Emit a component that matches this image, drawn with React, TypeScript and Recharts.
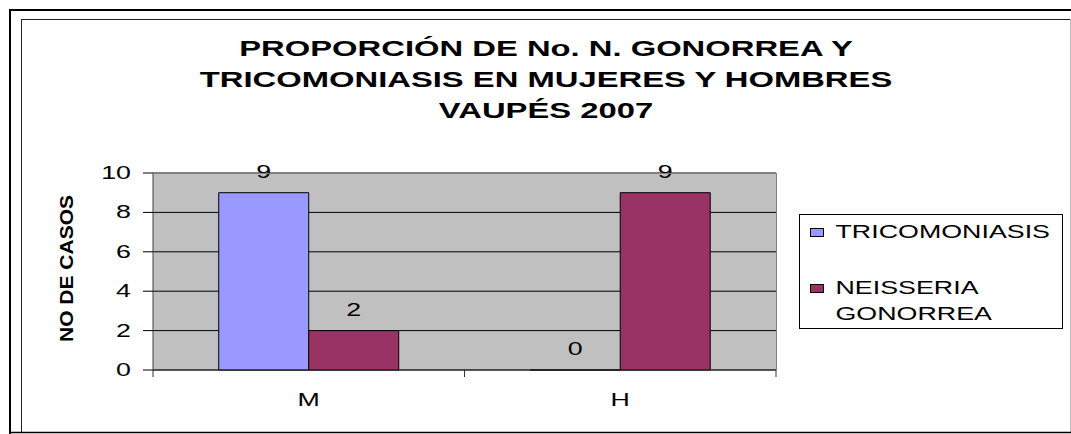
import React from 'react';
import { BarChart, Bar, XAxis, YAxis, CartesianGrid, LabelList } from 'recharts';

// values
const CATEGORIES = ['M', 'H'];
const TRICOMONIASIS = [9, 0];
const NEISSERIA_GONORREA = [2, 9];
const Y_TICKS = [0, 2, 4, 6, 8, 10];

const SERIES = [
  { key: 'tricomoniasis', name: 'TRICOMONIASIS', color: '#9999FF' },
  { key: 'gonorrea', name: 'NEISSERIA GONORREA', color: '#993366' },
];

const TITLE_LINES = [
  'PROPORCIÓN DE No. N. GONORREA Y',
  'TRICOMONIASIS EN MUJERES Y HOMBRES',
  'VAUPÉS 2007',
];

const data = CATEGORIES.map((cat, i) => ({
  cat,
  tricomoniasis: TRICOMONIASIS[i],
  gonorrea: NEISSERIA_GONORREA[i],
}));

// the original (an Excel chart) is stretched sideways
const SX = 1.49;
const FONT = '"Liberation Sans", Arial, sans-serif';

const W = 1071;
const H = 434;
const PLOT_L = 153;
const PLOT_R = 776;
const PLOT_T = 173;
const PLOT_B = 370;
const Y_AXIS_W = 60;
const X_AXIS_H = 40;

const Wide = ({ x, y, anchor = 'middle', size = 18, bold = false, children }: any) => (
  <text
    transform={`translate(${x},${y}) scale(${SX},1)`}
    textAnchor={anchor}
    fontSize={size}
    fontWeight={bold ? 700 : 400}
    fontFamily={FONT}
    fill="#000"
  >
    {children}
  </text>
);

const YTick = ({ x, y, payload }: any) => (
  <Wide x={x} y={y + 6} anchor="end">
    {payload.value}
  </Wide>
);

const XTick = ({ x, y, payload, index }: any) => {
  const half = (PLOT_R - PLOT_L) / CATEGORIES.length / 2;
  return (
    <g>
      {index === 0 && <line x1={x - half} x2={x - half} y1={y} y2={y + 7} stroke="#333" />}
      <line x1={x + half} x2={x + half} y1={y} y2={y + 7} stroke="#333" />
      <Wide x={x} y={y + 36}>
        {payload.value}
      </Wide>
    </g>
  );
};

const BarValue = (props: any) => {
  const vb = props.viewBox || props;
  const x = Number(vb.x ?? props.x);
  const y = Number(vb.y ?? props.y);
  const w = Number(vb.width ?? props.width);
  const h = Number(vb.height ?? props.height) || 0;
  // label sits above the top of the bar (bars grow upwards, height may be negative)
  const top = Math.min(y, y + h);
  return (
    <Wide x={x + w / 2} y={top - 15}>
      {props.value}
    </Wide>
  );
};

const Overlay = () => (
  <svg
    width={W}
    height={H}
    style={{ position: 'absolute', left: 0, top: 0, pointerEvents: 'none' }}
  >
    {/* frames */}
    <rect x={10} y={10} width={1200} height={600} fill="none" stroke="#000" strokeWidth={2} />
    <line x1={21.5} x2={21.5} y1={19} y2={432} stroke="#222" />
    <line x1={21} x2={1070} y1={19.5} y2={19.5} stroke="#222" />
    <line x1={1070.5} x2={1070.5} y1={19} y2={432} stroke="#bbb" />
    <line x1={9} x2={1071} y1={432.5} y2={432.5} stroke="#000" strokeWidth={1.5} />

    {/* plot area border, top and right */}
    <line x1={PLOT_L} x2={PLOT_R + 1} y1={PLOT_T + 0.5} y2={PLOT_T + 0.5} stroke="#808080" />
    <line x1={PLOT_R + 0.5} x2={PLOT_R + 0.5} y1={PLOT_T} y2={PLOT_B} stroke="#808080" />

    {/* title */}
    {TITLE_LINES.map((line, i) => (
      <Wide key={line} x={546} y={56 + i * 31} size={22} bold>
        {line}
      </Wide>
    ))}

    {/* y axis title */}
    <text
      transform="translate(73,268.5) rotate(-90)"
      textAnchor="middle"
      fontSize={18}
      fontWeight={700}
      fontFamily={FONT}
      textLength={147}
      lengthAdjust="spacingAndGlyphs"
    >
      NO DE CASOS
    </text>

    {/* legend */}
    <g transform="translate(799.5,214.5)">
      <rect x={0} y={0} width={263} height={114} fill="#fff" stroke="#000" />
      {SERIES.map((s, i) => {
        const top = i === 0 ? 14 : 70;
        const words = i === 0 ? [s.name] : s.name.split(' ');
        return (
          <g key={s.key}>
            <rect x={11} y={top} width={13} height={8} fill={s.color} stroke="#000" />
            {words.map((w, j) => (
              <Wide key={w} x={36} y={top + 9 + j * 26} anchor="start">
                {w}
              </Wide>
            ))}
          </g>
        );
      })}
    </g>
  </svg>
);

export default function App() {
  return (
    <div
      style={{
        position: 'absolute',
        left: 0,
        top: 0,
        width: W,
        height: H,
        background: '#fff',
        fontFamily: FONT,
      }}
    >
      <BarChart
        width={W}
        height={H}
        data={data}
        margin={{
          top: PLOT_T,
          right: W - PLOT_R,
          bottom: H - PLOT_B - X_AXIS_H,
          left: PLOT_L - Y_AXIS_W,
        }}
        barCategoryGap="21.1%"
        barGap={0}
      >
        <CartesianGrid vertical={false} stroke="#000" fill="#C0C0C0" fillOpacity={1} />
        <XAxis
          dataKey="cat"
          height={X_AXIS_H}
          axisLine={{ stroke: '#333' }}
          tickLine={false}
          tickSize={0}
          tickMargin={0}
          tick={<XTick />}
          interval={0}
        />
        <YAxis
          width={Y_AXIS_W}
          domain={[0, 10]}
          ticks={Y_TICKS}
          interval={0}
          axisLine={{ stroke: '#404040' }}
          tickLine={{ stroke: '#000' }}
          tickSize={10}
          tickMargin={12}
          tick={<YTick />}
        />
        {SERIES.map((s) => (
          <Bar
            key={s.key}
            dataKey={s.key}
            name={s.name}
            fill={s.color}
            stroke="#000"
            strokeWidth={1}
            minPointSize={0.01}
            isAnimationActive={false}
          >
            <LabelList dataKey={s.key} content={<BarValue />} />
          </Bar>
        ))}
      </BarChart>
      <Overlay />
    </div>
  );
}
